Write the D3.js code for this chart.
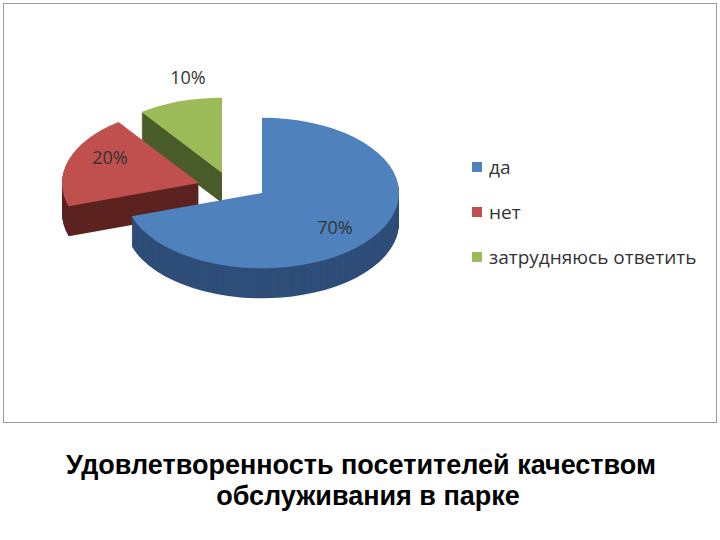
<!DOCTYPE html><html><head><meta charset="utf-8">
<script src="https://cdn.jsdelivr.net/npm/d3@7"></script>
<style>body{margin:0;background:#fff}</style></head><body>
<svg id="c" width="720" height="540"></svg>
<script>
const categories=["да","нет","затрудняюсь ответить"];
const values=[70,20,10];
const labels=["70%","20%","10%"];
const colors=["#4F81BD","#C0504D","#9BBB59"];
const sides=["#2E4E78","#5C2321","#4A5C2A"];
const offsets=[[0,0],[-63,-10],[-40,-20]];
const svg=d3.select("#c");
svg.append("rect").attr("x",3.5).attr("y",3.5).attr("width",713).attr("height",419).attr("fill","#fff").attr("stroke","#9a9a9a");
const cx=262,cy=193,R=137,sy=0.55,depth=30;
const pie=d3.pie().sort(null)(values);
const arc=d3.arc().innerRadius(0).outerRadius(R);
const g=svg.append("g");
for(let z=depth;z>0;z-=1){
  pie.forEach((d,i)=>{const o=offsets[i];
    g.append("path").attr("d",arc(d)).attr("fill",sides[i])
     .attr("transform",`translate(${cx+o[0]},${cy+o[1]+z}) scale(1,${sy})`);});
}
pie.forEach((d,i)=>{const o=offsets[i];
  g.append("path").attr("d",arc(d)).attr("fill",colors[i])
   .attr("transform",`translate(${cx+o[0]},${cy+o[1]}) scale(1,${sy})`);});
const lp=[[335,228],[110,158],[188,78]];
labels.forEach((t,i)=>svg.append("text").attr("x",lp[i][0]).attr("y",lp[i][1]+6).attr("text-anchor","middle")
  .attr("font-family","Open Sans").attr("font-size",18).attr("fill","#333").text(t));
categories.forEach((c,i)=>{const y=167+i*45;
  svg.append("rect").attr("x",472).attr("y",y-5).attr("width",10).attr("height",10).attr("fill",colors[i]);
  svg.append("text").attr("x",489).attr("y",y+7).attr("font-family","Open Sans").attr("font-size",19).attr("fill","#333").text(c);});
svg.append("text").attr("x",361).attr("y",474).attr("text-anchor","middle").attr("font-family","Liberation Sans").attr("font-weight","bold").attr("font-size",27).text("Удовлетворенность посетителей качеством");
svg.append("text").attr("x",368).attr("y",505).attr("text-anchor","middle").attr("font-family","Liberation Sans").attr("font-weight","bold").attr("font-size",27).text("обслуживания в парке");
</script></body></html>
